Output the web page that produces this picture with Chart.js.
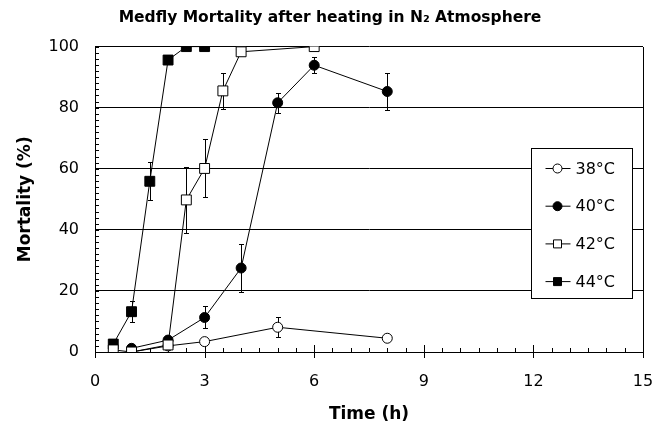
<!DOCTYPE html>
<html>
<head>
<meta charset="utf-8">
<script src="https://cdn.jsdelivr.net/npm/chart.js@4.4.1/dist/chart.umd.min.js"></script>
<style>
    body { margin: 0; background: #fff; }
</style>
</head>
<body>
<canvas id="mortalityChart" width="660" height="429"></canvas>
<script>
// series labels
const seriesLabels = ['38°C', '40°C', '42°C', '44°C'];

// hours of heating, mortality (%) and +/- error for each temperature
const time38 = [1, 2, 3, 5, 8];
const mort38 = [0, 2, 3.4, 8.1, 4.5];
const err38 = [0, 0, 0, 3.2, 0];

const time40 = [1, 2, 3, 4, 5, 6, 8];
const mort40 = [1.2, 3.9, 11.3, 27.5, 81.6, 93.9, 85.3];
const err40 = [0, 0, 3.6, 8, 3.3, 2.6, 6.2];

const time42 = [0.5, 1, 2, 2.5, 3, 3.5, 4, 6];
const mort42 = [0.7, 0, 2.3, 49.8, 60.1, 85.5, 98.3, 100];
const err42 = [0, 0, 0, 10.8, 9.5, 5.9, 0, 0];

const time44 = [0.5, 1, 1.5, 2, 2.5, 3];
const mort44 = [2.6, 13.2, 55.9, 95.6, 100, 100];
const err44 = [0, 3.5, 6.2, 0, 0, 0];

// axis tick labels (minor ticks every 0.5 h and every 2 %)
const xTickLabels = [0, 3, 6, 9, 12, 15];
const yTickLabels = [0, 20, 40, 60, 80, 100];
const xMinorStep = 0.5;
const yMinorStep = 2;

const FONT = "'DejaVu Sans', Verdana, sans-serif";

function toPoints(xs, ys) {
    return xs.map((x, i) => ({ x: x, y: ys[i] }));
}

function stepTicks(min, max, step) {
    const ticks = [];
    for (let v = min; v <= max + 1e-9; v += step) {
        ticks.push({ value: Math.round(v * 100) / 100 });
    }
    return ticks;
}

// draws vertical error bars with caps, behind the markers
const errorBars = {
    id: 'errorBars',
    beforeDatasetsDraw(chart) {
        const { ctx, scales: { x, y } } = chart;
        ctx.save();
        ctx.strokeStyle = '#000';
        ctx.lineWidth = 1;
        chart.data.datasets.forEach(ds => {
            ds.data.forEach((pt, i) => {
                const e = ds.errors[i];
                if (!e) return;
                const px = Math.round(x.getPixelForValue(pt.x)) + 0.5;
                const top = Math.round(y.getPixelForValue(pt.y + e)) + 0.5;
                const bot = Math.round(y.getPixelForValue(pt.y - e)) + 0.5;
                ctx.beginPath();
                ctx.moveTo(px, top); ctx.lineTo(px, bot);
                ctx.moveTo(px - 2.5, top); ctx.lineTo(px + 2.5, top);
                ctx.moveTo(px - 2.5, bot); ctx.lineTo(px + 2.5, bot);
                ctx.stroke();
            });
        });
        ctx.restore();
    }
};

// small tick marks pointing into the plot area, plus the right border
const innerTicks = {
    id: 'innerTicks',
    beforeDatasetsDraw(chart) {
        const { ctx, chartArea, scales: { x, y } } = chart;
        ctx.save();
        ctx.strokeStyle = '#000';
        ctx.lineWidth = 1;
        ctx.beginPath();
        y.ticks.forEach(t => {
            const py = Math.round(y.getPixelForValue(t.value)) + 0.5;
            ctx.moveTo(chartArea.left, py);
            ctx.lineTo(chartArea.left + 4, py);
        });
        x.ticks.forEach(t => {
            const px = Math.round(x.getPixelForValue(t.value)) + 0.5;
            const major = xTickLabels.includes(t.value);
            ctx.moveTo(px, chartArea.bottom + (major ? 6 : 0));
            ctx.lineTo(px, chartArea.bottom - (major ? 7 : 4));
        });
        const rx = Math.round(chartArea.right) + 0.5;
        ctx.moveTo(rx, Math.round(chartArea.top));
        ctx.lineTo(rx, Math.round(chartArea.bottom));
        ctx.stroke();
        ctx.restore();
    }
};

// boxed legend inside the plot, right side
const boxLegend = {
    id: 'boxLegend',
    afterDraw(chart) {
        const { ctx, chartArea } = chart;
        const left = Math.round(chartArea.right - 112) + 0.5;
        const top = Math.round(chartArea.top + 101) + 0.5;
        ctx.save();
        ctx.fillStyle = '#fff';
        ctx.strokeStyle = '#000';
        ctx.lineWidth = 1;
        ctx.fillRect(left, top, 101, 150);
        ctx.strokeRect(left, top, 101, 150);
        ctx.font = '16px ' + FONT;
        ctx.textBaseline = 'middle';
        chart.data.datasets.forEach((ds, i) => {
            const cy = top + 20 + i * 37.7;
            const cx = left + 26;
            ctx.beginPath();
            ctx.moveTo(left + 14, cy); ctx.lineTo(left + 39, cy);
            ctx.stroke();
            ctx.fillStyle = ds.pointBackgroundColor;
            ctx.beginPath();
            if (ds.pointStyle === 'rect') {
                ctx.rect(cx - 4, cy - 4, 8, 8);
            } else {
                ctx.arc(cx, cy, 4.5, 0, Math.PI * 2);
            }
            ctx.fill();
            ctx.stroke();
            ctx.fillStyle = '#000';
            ctx.fillText(ds.label, left + 44, cy + 1);
        });
        ctx.restore();
    }
};

function makeDataset(label, xs, ys, errs, style, fill, order) {
    return {
        label: label,
        data: toPoints(xs, ys),
        errors: errs,
        borderColor: '#000',
        borderWidth: 1,
        pointStyle: style,
        pointRadius: style === 'rect' ? 7 : 5,
        pointBackgroundColor: fill,
        pointBorderColor: '#000',
        pointBorderWidth: 1,
        tension: 0,
        order: order
    };
}

Chart.defaults.color = '#000';
Chart.defaults.font.family = FONT;

new Chart(document.getElementById('mortalityChart'), {
    type: 'line',
    data: {
        datasets: [
            makeDataset(seriesLabels[0], time38, mort38, err38, 'circle', '#fff', 1),
            makeDataset(seriesLabels[1], time40, mort40, err40, 'circle', '#000', 2),
            makeDataset(seriesLabels[2], time42, mort42, err42, 'rect', '#fff', 0),
            makeDataset(seriesLabels[3], time44, mort44, err44, 'rect', '#000', 3)
        ]
    },
    options: {
        responsive: false,
        animation: false,
        layout: { padding: { left: 17, right: 17, top: 0, bottom: 0 } },
        plugins: {
            legend: { display: false },
            tooltip: { enabled: false },
            title: {
                display: true,
                text: 'Medfly Mortality after heating in N₂ Atmosphere',
                font: { size: 15.5, weight: 'bold' },
                padding: { top: 9, bottom: 19 }
            }
        },
        scales: {
            x: {
                type: 'linear',
                min: 0,
                max: 15,
                afterBuildTicks: scale => { scale.ticks = stepTicks(0, 15, xMinorStep); },
                ticks: {
                    autoSkip: false,
                    maxRotation: 0,
                    padding: 3,
                    font: { size: 16 },
                    callback: v => xTickLabels.includes(v) ? v : ''
                },
                grid: {
                    drawOnChartArea: false,
                    drawTicks: true,
                    tickLength: 17,
                    tickColor: 'rgba(0,0,0,0)'
                },
                border: { display: true, color: '#000' },
                title: {
                    display: true,
                    text: 'Time (h)',
                    font: { size: 17, weight: 'bold' },
                    padding: { top: 4, bottom: 4 }
                },
                afterFit: scale => { scale.height = 77; }
            },
            y: {
                min: 0,
                max: 100,
                afterBuildTicks: scale => { scale.ticks = stepTicks(0, 100, yMinorStep); },
                ticks: {
                    autoSkip: false,
                    padding: 3,
                    font: { size: 16 },
                    callback: v => yTickLabels.includes(v) ? v : ''
                },
                grid: {
                    drawTicks: true,
                    tickLength: 13,
                    tickColor: 'rgba(0,0,0,0)',
                    color: c => (c.tick && c.tick.value > 0 && yTickLabels.includes(c.tick.value)) ? '#000' : 'rgba(0,0,0,0)'
                },
                border: { display: true, color: '#000' },
                title: {
                    display: true,
                    text: 'Mortality (%)',
                    font: { size: 17, weight: 'bold', lineHeight: 1 },
                    padding: { top: 0, bottom: 4 }
                },
                afterFit: scale => { scale.width = 78; }
            }
        }
    },
    plugins: [errorBars, innerTicks, boxLegend]
});
</script>
</body>
</html>
